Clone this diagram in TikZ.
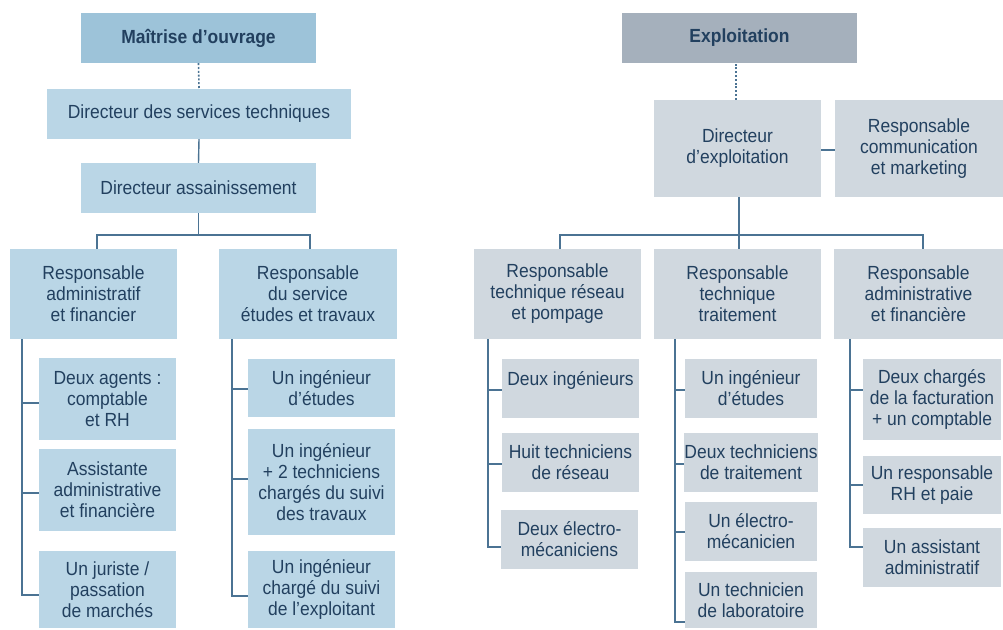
\documentclass[tikz,border=0pt]{standalone}
\usepackage{fontspec}
\setmainfont[FakeStretch=0.92]{Liberation Sans}
\usetikzlibrary{calc}
\definecolor{hdrblue}{HTML}{9DC3D9}
\definecolor{boxblue}{HTML}{BAD6E6}
\definecolor{hdrgray}{HTML}{A5B0BC}
\definecolor{boxgray}{HTML}{D0D8DF}
\definecolor{txtc}{HTML}{22405F}
\definecolor{lnc}{HTML}{4B7393}
\newcommand{\obox}[7]{%
  \pgfmathsetmacro\obW{#4-#2}\pgfmathsetmacro\obH{#5-#3}%
  \node[#6, minimum width=\obW pt, minimum height=\obH pt] (#1) at ({(#2+#4)/2},{(#3+#5)/2}) {#7};}
\tikzset{
  basebox/.style={rectangle, inner sep=0pt, align=center, text=txtc, font=\fontsize{19}{21}\selectfont},
  bluebox/.style={basebox, fill=boxblue},
  graybox/.style={basebox, fill=boxgray},
  bluehead/.style={basebox, fill=hdrblue, font=\fontsize{19}{21}\selectfont\bfseries},
  grayhead/.style={basebox, fill=hdrgray, font=\fontsize{19}{21}\selectfont\bfseries},
  conn/.style={draw=lnc, line width=1.4pt},
  dotconn/.style={draw=lnc, line width=1.6pt, dash pattern=on 2pt off 1.8pt},
}
\begin{document}
\begin{tikzpicture}[x=1pt, y=-1pt]
\useasboundingbox (0,0) rectangle (1003,629);
% ---------- left tree ----------
\obox{mo}{81}{13}{316}{63}{bluehead}{Maîtrise d’ouvrage}
\obox{dst}{47}{89}{351}{139}{bluebox}{Directeur des services techniques}
\obox{da}{81}{163}{316}{213}{bluebox}{Directeur assainissement}
\obox{raf}{10}{249}{177}{339}{bluebox}{Responsable\\administratif\\et financier}
\obox{rset}{219}{249}{397}{339}{bluebox}{Responsable\\du service\\études et travaux}
\obox{a1}{39}{358}{176}{440}{bluebox}{Deux agents :\\comptable\\et RH}
\obox{a2}{39}{449}{176}{531}{bluebox}{Assistante\\administrative\\et financière}
\obox{a3}{39}{551}{176}{628}{bluebox}{Un juriste /\\passation\\de marchés}
\obox{b1}{248}{359}{395}{417}{bluebox}{Un ingénieur\\d’études}
\obox{b2}{248}{429}{395}{535}{bluebox}{Un ingénieur\\+ 2 techniciens\\chargés du suivi\\des travaux}
\obox{b3}{248}{551}{395}{628}{bluebox}{Un ingénieur\\chargé du suivi\\de l’exploitant}
% ---------- right tree ----------
\obox{ex}{622}{13}{857}{63}{grayhead}{Exploitation}
\obox{de}{654}{100}{821}{197}{graybox}{Directeur\\d’exploitation}
\obox{rc}{835}{100}{1003}{197}{graybox}{Responsable\\communication\\et marketing}
\obox{r1}{474}{249}{641}{339}{graybox}{Responsable\\technique réseau\\et pompage}
\obox{r2}{654}{249}{821}{339}{graybox}{Responsable\\technique\\traitement}
\obox{r3}{834}{249}{1003}{339}{graybox}{Responsable\\administrative\\et financière}
\obox{c1}{502}{359}{639}{418}{graybox}{Deux ingénieurs\\~}
\obox{c2}{502}{433}{639}{492}{graybox}{Huit techniciens\\de réseau}
\obox{c3}{501}{510}{638}{569}{graybox}{Deux électro-\\mécaniciens}
\obox{d1}{685}{359}{817}{418}{graybox}{Un ingénieur\\d’études}
\obox{d2}{685}{433}{817}{492}{graybox}{Deux techniciens\\de traitement}
\obox{d3}{685}{502}{817}{561}{graybox}{Un électro-\\mécanicien}
\obox{d4}{685}{572}{817}{628}{graybox}{Un technicien\\de laboratoire}
\obox{e1}{863}{359}{1001}{440}{graybox}{Deux chargés\\de la facturation\\+ un comptable}
\obox{e2}{863}{456}{1001}{514}{graybox}{Un responsable\\RH et paie}
\obox{e3}{863}{528}{1001}{587}{graybox}{Un assistant\\administratif}
% ---------- connectors left ----------
\draw[dotconn] (mo.south) -- (dst.north);
\draw[conn] (dst.south) -- (da.north);
\draw[conn] (da.south) -- ++(0,22);
\draw[conn] ([xshift=3.5pt]raf.north) -- ++(0,-14) -| ([xshift=2pt]rset.north);
\coordinate (sl) at ([xshift=12pt]raf.south west);
\foreach \c/\s in {a1/-4,a2/-3,a3/-5.5} \draw[conn] (sl) |- ([yshift=\s pt]\c.west);
\coordinate (sb) at ([xshift=13pt]rset.south west);
\foreach \c/\s in {b1/-1,b2/3,b3/-6.5} \draw[conn] (sb) |- ([yshift=\s pt]\c.west);
% ---------- connectors right ----------
\draw[dotconn] ([xshift=-1.5pt]de.north) -- ([xshift=-1.5pt]de.north |- ex.south);
\draw[conn] ([yshift=-1.5pt]de.east) -- ([yshift=-1.5pt]de.east -| rc.west);
\draw[conn] ([xshift=1.5pt]de.south) -- ([xshift=1.5pt]r2.north);
\draw[conn] ([xshift=2.5pt]r1.north) -- ++(0,-14) -| ([xshift=4.5pt]r3.north);
\coordinate (s1) at ([xshift=14pt]r1.south west);
\foreach \c/\s in {c1/-1.5,c2/-1.5,c3/-7.5} \draw[conn] (s1) |- ([yshift=\s pt]\c.west);
\coordinate (s2) at ([xshift=21pt]r2.south west);
\foreach \c/\s in {d1/-1.5,d2/-1.5,d3/-0.5,d4/-22} \draw[conn] (s2) |- ([yshift=\s pt]\c.west);
\coordinate (s3) at ([xshift=16pt]r3.south west);
\foreach \c/\s in {e1/9.5,e2/0,e3/10.5} \draw[conn] (s3) |- ([yshift=\s pt]\c.west);
\end{tikzpicture}
\end{document}
